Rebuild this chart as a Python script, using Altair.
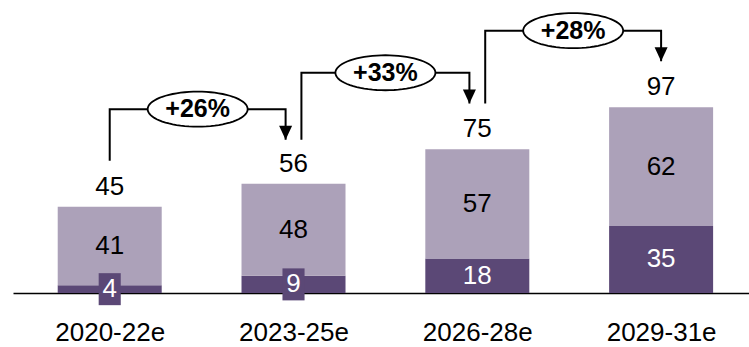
import json
import numpy as np
import pandas as pd
import altair as alt

# Period labels and the two stacked components of each bar
periods = ["2020-22e", "2023-25e", "2026-28e", "2029-31e"]
lower = [4, 9, 18, 35]
upper = [41, 48, 57, 62]
totals = [45, 56, 75, 97]
growth = ["+26%", "+33%", "+28%"]

DARK = "#5b4876"
LIGHT = "#aca1b9"
FONT = "Liberation Sans"

idx = list(range(len(periods)))

# stacked segments
seg = pd.DataFrame(
    [dict(pos=i, part="lower", rank=0, value=lower[i]) for i in idx]
    + [dict(pos=i, part="upper", rank=1, value=upper[i]) for i in idx]
)

low_lab = pd.DataFrame(dict(pos=idx, value=lower, mid=[v / 2 for v in lower]))
low_lab["small"] = low_lab["value"] < 12
up_lab = pd.DataFrame(
    dict(pos=idx, value=upper, mid=[lower[i] + upper[i] / 2 for i in idx])
)
tot = pd.DataFrame(dict(pos=idx, total=totals, top=[lower[i] + upper[i] for i in idx]))

# growth connectors between consecutive bars
LIFT = 24      # gap between total and connector end (data units)
RISE = 16      # height of the horizontal run above the higher end
SHIFT = 0.043  # side shift when a bar both receives and sends a connector
rows, path = [], []
for k in range(len(growth)):
    a, b = k, k + 1
    xd = a + (SHIFT if a > 0 else 0)
    xa = b - (SHIFT if b < len(periods) - 1 else 0)
    start = totals[a] + LIFT
    tip = totals[b] + LIFT
    level = max(start, tip) + RISE
    rows.append(dict(pair=k, xa=xa, tip=tip, xm=(xd + xa) / 2, level=level, label=growth[k]))
    for s, (px, py) in enumerate([(xd, start), (xd, level), (xa, level), (xa, tip)]):
        path.append(dict(pair=k, seq=s, x=px, y=py))
conn = pd.DataFrame(rows)
conn_path = pd.DataFrame(path)

xs = alt.Scale(domain=[-0.499, 3.451], nice=False, zero=False)
ys = alt.Scale(domain=[0, 153], nice=False, zero=True)

x_axis = alt.Axis(
    values=idx, labelExpr=json.dumps(periods) + "[datum.value]", ticks=False, tickSize=0,
    grid=False, domainColor="black", domainWidth=1.5, labelFontSize=26, labelFont=FONT,
    labelColor="black", labelPadding=26, title=None, labelFlush=False, labelOverlap=False,
)


def X(field):
    return alt.X(field, type="quantitative", scale=xs, axis=x_axis)


def Y(field, **kw):
    return alt.Y(field, type="quantitative", scale=ys, axis=None, **kw)


t = np.linspace(0, 2 * np.pi, 72, endpoint=False)
ellipse = "M" + "L".join(f"{np.cos(a):.4f},{0.35 * np.sin(a):.4f}" for a in t) + "Z"
triangle = "M-0.93,-1L0.93,-1L0,1Z"
box = "M-0.69,-1L0.69,-1L0.69,1L-0.69,1Z"

bars = alt.Chart(seg).mark_bar(size=104).encode(
    x=X("pos"),
    y=Y("value", stack="zero"),
    color=alt.Color("part:N", scale=alt.Scale(domain=["lower", "upper"], range=[DARK, LIGHT]), legend=None),
    order=alt.Order("rank:Q"),
)

boxes = alt.Chart(low_lab).transform_filter("datum.small").mark_point(
    shape=box, size=1024, filled=True, color=DARK, opacity=1
).encode(x=X("pos"), y=Y("mid"))

low_text = alt.Chart(low_lab).mark_text(font=FONT, fontSize=26, color="white", baseline="middle").encode(
    x=X("pos"), y=Y("mid"), text="value:Q"
)
up_text = alt.Chart(up_lab).mark_text(font=FONT, fontSize=26, color="black", baseline="middle").encode(
    x=X("pos"), y=Y("mid"), text="value:Q"
)
tot_text = alt.Chart(tot).mark_text(font=FONT, fontSize=26, color="black", baseline="middle", dy=-20).encode(
    x=X("pos"), y=Y("top"), text="total:Q"
)

lines = alt.Chart(conn_path).mark_line(color="black", strokeWidth=2, strokeJoin="miter").encode(
    x=X("x"), y=Y("y"), detail="pair:N", order="seq:Q",
)
heads = alt.Chart(conn).mark_point(shape=triangle, size=196, filled=True, color="black", opacity=1, yOffset=-7).encode(
    x=X("xa"), y=Y("tip")
)
ovals = alt.Chart(conn).mark_point(
    shape=ellipse, size=10000, filled=True, fill="white", stroke="black", strokeWidth=1.8, opacity=1
).encode(x=X("xm"), y=Y("level"))
pct = alt.Chart(conn).mark_text(font=FONT, fontSize=25, fontWeight="bold", color="black", baseline="middle").encode(
    x=X("xm"), y=Y("level"), text="label:N"
)

chart = alt.layer(bars, boxes, low_text, up_text, tot_text, lines, heads, ovals, pct).properties(
    width=736, height=293,
    background="white",
    autosize=alt.AutoSizeParams(type="none"),
    padding={"left": 13, "top": 0, "right": 0, "bottom": 54},
).configure_view(stroke=None)

chart.save("out.html", embed_options={"renderer": "svg", "actions": False})
